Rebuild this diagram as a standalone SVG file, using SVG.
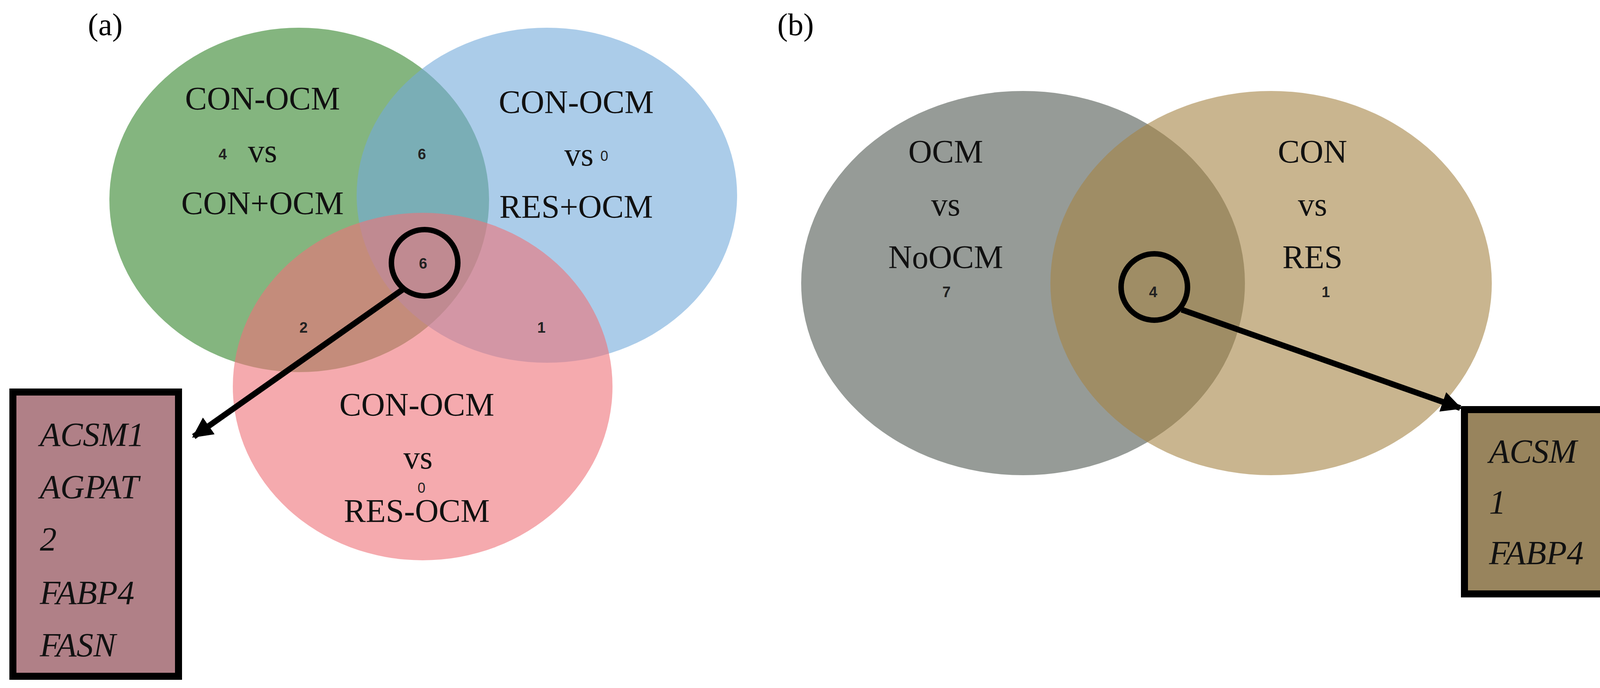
<svg xmlns="http://www.w3.org/2000/svg" width="4194" height="1762" viewBox="0 0 4194 1762">
<style>
.t{font-family:"Liberation Serif",serif;font-size:84px;fill:#111;text-anchor:middle}
.i{font-family:"Liberation Serif",serif;font-size:86px;font-style:italic;fill:#111}
.n{font-family:"Liberation Sans",Arial,sans-serif;font-size:38px;font-weight:bold;fill:#222;text-anchor:middle}
.z{font-family:"Liberation Sans",Arial,sans-serif;font-size:36px;fill:#222;text-anchor:middle}
.s{fill:none;stroke:#000;stroke-width:14}
</style>
<defs>
<marker id="ah" viewBox="0 0 10 10" refX="9" refY="5" markerWidth="3.5" markerHeight="3.5" orient="auto" markerUnits="strokeWidth"><path d="M0,0L10,5L0,10z" fill="#000"/></marker>
</defs>
<rect width="4194" height="1762" fill="#fff"/>
<text x="225" y="90" font-family="Liberation Serif,serif" font-size="80">(a)</text>
<text x="1990" y="90" font-family="Liberation Serif,serif" font-size="80">(b)</text>
<g id="setA1"><ellipse cx="766" cy="512" rx="486" ry="441" fill="rgb(50,132,42)" fill-opacity="0.6"/></g>
<g id="setA2"><ellipse cx="1400" cy="500" rx="487" ry="429" fill="rgb(115,170,218)" fill-opacity="0.6"/></g>
<g id="setA3"><ellipse cx="1082" cy="990" rx="486" ry="445" fill="rgb(238,113,120)" fill-opacity="0.6"/></g>
<g id="labelsA">
<text class="t" x="672" y="281">CON-OCM</text>
<text class="t" x="672" y="415">vs</text>
<text class="t" x="672" y="549">CON+OCM</text>
<text class="t" x="1475" y="290">CON-OCM</text>
<text class="t" x="1482" y="424">vs</text>
<text class="t" x="1475" y="558">RES+OCM</text>
<text class="t" x="1067" y="1065">CON-OCM</text>
<text class="t" x="1070" y="1200">vs</text>
<text class="t" x="1067" y="1337">RES-OCM</text>
<text class="n" x="570" y="408">4</text>
<text class="z" x="1547" y="412">0</text>
<text class="n" x="1080" y="408">6</text>
<text class="n" x="1083" y="688">6</text>
<text class="n" x="777" y="852">2</text>
<text class="n" x="1386" y="852">1</text>
<text class="z" x="1079" y="1262">0</text>
</g>
<g id="setB1"><ellipse cx="2619" cy="725" rx="568" ry="492" fill="rgb(80,88,82)" fill-opacity="0.6"/></g>
<g id="setB2"><ellipse cx="3254" cy="725" rx="565" ry="492" fill="rgb(165,132,68)" fill-opacity="0.6"/></g>
<g id="labelsB">
<text class="t" x="2421" y="417">OCM</text>
<text class="t" x="2421" y="552">vs</text>
<text class="t" x="2421" y="687">NoOCM</text>
<text class="t" x="3360" y="417">CON</text>
<text class="t" x="3360" y="552">vs</text>
<text class="t" x="3360" y="687">RES</text>
<text class="n" x="2423" y="761">7</text>
<text class="n" x="2952" y="761">4</text>
<text class="n" x="3394" y="761">1</text>
</g>
<g id="boxA"><rect x="33" y="1004" width="424" height="728" fill="#b08087" stroke="#000" stroke-width="18"/>
<text class="i" x="102" y="1142">ACSM1</text>
<text class="i" x="102" y="1276">AGPAT</text>
<text class="i" x="102" y="1410">2</text>
<text class="i" x="102" y="1547">FABP4</text>
<text class="i" x="102" y="1681">FASN</text></g>
<g id="boxB"><rect x="3749" y="1049" width="394" height="472" fill="#98845d" stroke="#000" stroke-width="18"/>
<text class="i" x="3812" y="1185">ACSM</text>
<text class="i" x="3812" y="1315">1</text>
<text class="i" x="3812" y="1445">FABP4</text></g>
<g id="connectors">
<circle class="s" cx="1087" cy="673" r="85"/>
<line x1="1030" y1="742" x2="496" y2="1118" stroke="#000" stroke-width="15" marker-end="url(#ah)"/>
<circle class="s" cx="2955" cy="735" r="85"/>
<line x1="3025" y1="793" x2="3738" y2="1045" stroke="#000" stroke-width="15" marker-end="url(#ah)"/>
</g>
</svg>
